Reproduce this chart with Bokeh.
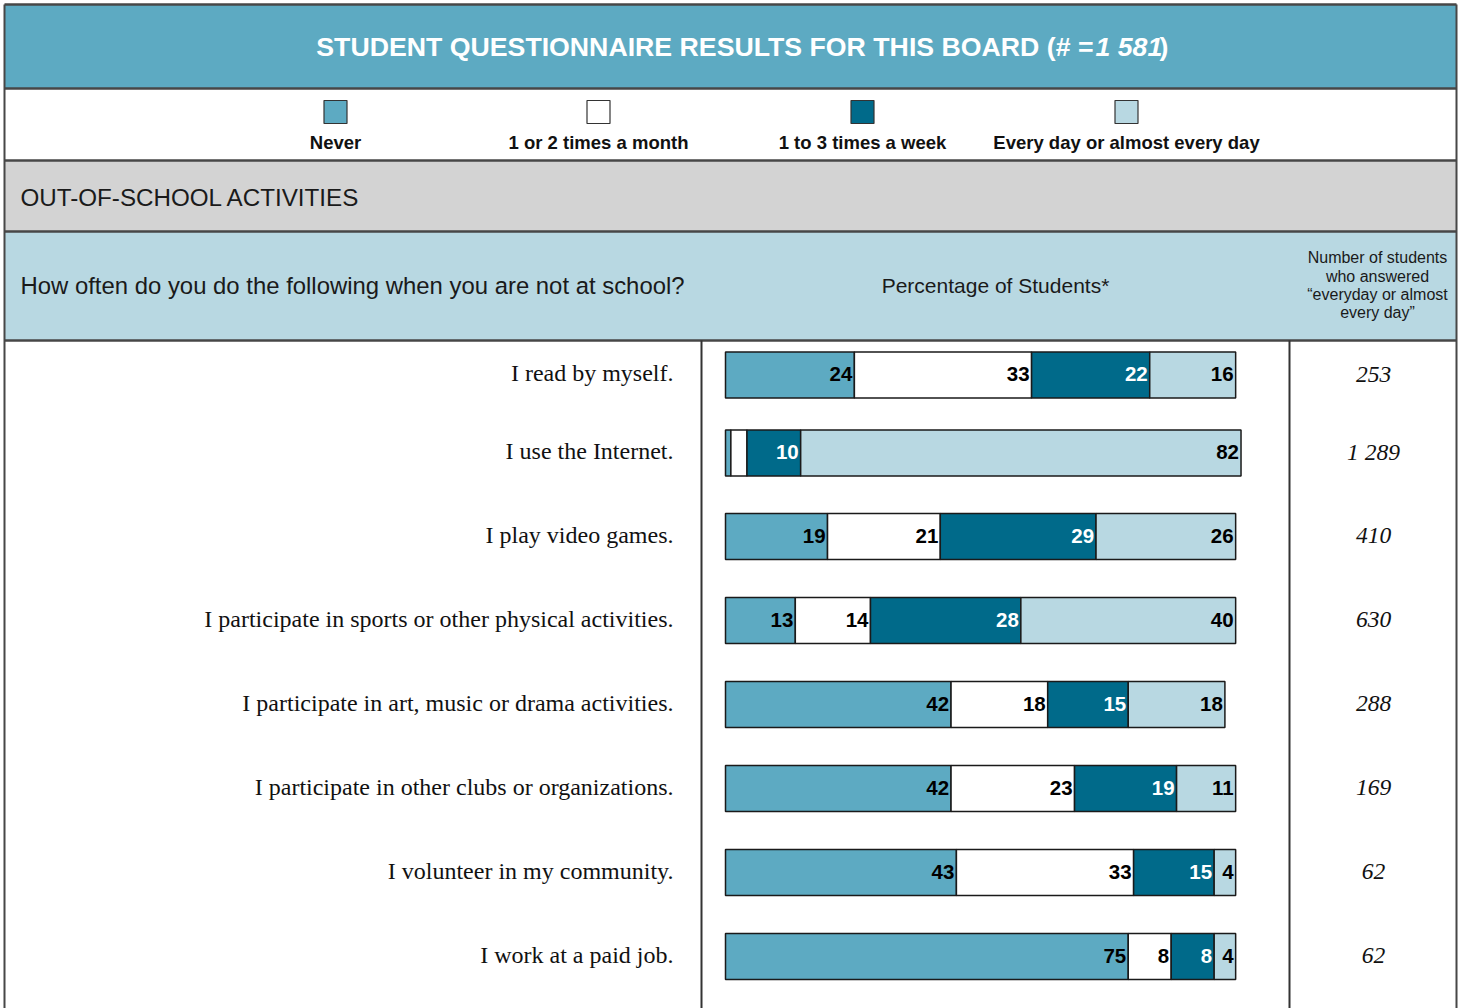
from bokeh.plotting import figure
from bokeh.models import Range1d, ColumnDataSource
from bokeh.core.properties import value
from bokeh.embed import file_html
from bokeh.resources import INLINE
import numpy as np

# ---------------- data ----------------
questions = [
    "I read by myself.",
    "I use the Internet.",
    "I play video games.",
    "I participate in sports or other physical activities.",
    "I participate in art, music or drama activities.",
    "I participate in other clubs or organizations.",
    "I volunteer in my community.",
    "I work at a paid job.",
]
categories = ["Never", "1 or 2 times a month", "1 to 3 times a week", "Every day or almost every day"]
never = [24, 1, 19, 13, 42, 42, 43, 75]
monthly = [33, 3, 21, 14, 18, 23, 33, 8]
weekly = [22, 10, 29, 28, 15, 19, 15, 8]
daily = [16, 82, 26, 40, 18, 11, 4, 4]
daily_counts = ["253", "1 289", "410", "630", "288", "169", "62", "62"]
total_students = "1 581"

# ---------------- style / layout ----------------
colors = ["#5DAAC2", "#FFFFFF", "#006A8A", "#B8D8E2"]
label_colors = ["#000000", "#000000", "#FFFFFF", "#000000"]
SANS = "Liberation Sans"
SERIF = "Liberation Serif"
LINE = "#474747"
row_y = [374.5, 452.5, 536, 620, 704, 788, 872, 956]
bar_x0 = 725.0
px_per_pct = 5.37
W, H = 1460, 1008

p = figure(width=W, height=H, x_range=Range1d(0, W), y_range=Range1d(H, 0),
           output_backend="svg", toolbar_location=None, min_border=0,
           x_axis_location=None, y_axis_location=None)
p.grid.visible = False
p.outline_line_color = None
p.background_fill_color = "white"
p.border_fill_color = "white"
p.extra_x_ranges = {"pct": Range1d(start=(0 - bar_x0) / px_per_pct, end=(W - bar_x0) / px_per_pct)}

# bands
p.quad(left=[4, 4, 4], right=[1456, 1456, 1456], top=[4, 160, 231], bottom=[88, 231, 340],
       fill_color=["#5DAAC2", "#D3D3D3", "#B8D8E2"], line_color=None)

# rules
p.segment(x0=[4, 4, 4, 4, 4], x1=[1456] * 5, y0=[4, 88, 160, 231, 340], y1=[4, 88, 160, 231, 340],
          line_color=LINE, line_width=2.5)
p.segment(x0=[4, 1456], x1=[4, 1456], y0=[4, 4], y1=[H, H], line_color=LINE, line_width=2)
p.segment(x0=[701, 1289], x1=[701, 1289], y0=[340, 340], y1=[H, H], line_color="#333333", line_width=2)

# title
p.text(x=[1093], y=[46.5], text=["STUDENT QUESTIONNAIRE RESULTS FOR THIS BOARD (# ="],
       text_font=value(SANS), text_font_style="bold", text_font_size="26.7px",
       text_color="white", text_align="right", text_baseline="middle")
p.text(x=[1095], y=[46.5], text=[total_students],
       text_font=value(SANS), text_font_style="bold italic", text_font_size="26.7px",
       text_color="white", text_align="left", text_baseline="middle")
p.text(x=[1159], y=[46.5], text=[")"],
       text_font=value(SANS), text_font_style="bold", text_font_size="26.7px",
       text_color="white", text_align="left", text_baseline="middle")

# legend
leg_x = [335, 598, 862, 1126]
p.rect(x=leg_x, y=[111.5] * 4, width=23, height=23, fill_color=colors, line_color="#333333", line_width=1.2)
p.text(x=leg_x, y=[141.8] * 4, text=categories, text_font=value(SANS), text_font_style="bold",
       text_font_size="18.5px", text_color="#111111", text_align="center", text_baseline="middle")

# section headers
p.text(x=[20], y=[196.5], text=["OUT-OF-SCHOOL ACTIVITIES"], text_font=value(SANS),
       text_font_size="24.2px", text_color="#1a1a1a", text_baseline="middle")
p.text(x=[20], y=[284.5], text=["How often do you do the following when you are not at school?"],
       text_font=value(SANS), text_font_size="23.9px", text_color="#1a1a1a", text_baseline="middle")
p.text(x=[995], y=[284.5], text=["Percentage of Students*"], text_font=value(SANS),
       text_font_size="21px", text_color="#1a1a1a", text_align="center", text_baseline="middle")
p.text(x=[1377] * 4, y=[257, 276, 294, 312],
       text=["Number of students", "who answered", "\u201ceveryday or almost", "every day\u201d"],
       text_font=value(SANS), text_font_size="16px", text_color="#1a1a1a",
       text_align="center", text_baseline="middle")

# row labels and counts
p.text(x=[673] * len(questions), y=[y - 2 for y in row_y], text=questions, text_font=value(SERIF),
       text_font_size="24px", text_color="#111111", text_align="right", text_baseline="middle")
p.text(x=[1373] * len(questions), y=[y - 1 for y in row_y], text=daily_counts, text_font=value(SERIF),
       text_font_style="italic", text_font_size="23.5px", text_color="#111111",
       text_align="center", text_baseline="middle")

# stacked bars
series = [never, monthly, weekly, daily]
cum = np.zeros(len(questions))
for vals, col, lcol in zip(series, colors, label_colors):
    vals = np.array(vals, dtype=float)
    left = cum.copy()
    right = cum + vals
    src = ColumnDataSource(dict(y=row_y, left=left, right=right))
    p.hbar(y="y", left="left", right="right", height=46, source=src, x_range_name="pct",
           fill_color=col, line_color="#1a1a1a", line_width=1.5)
    mask = vals >= 4
    lsrc = ColumnDataSource(dict(x=right[mask], y=np.array(row_y)[mask] - 1,
                                 t=[str(int(v)) for v in vals[mask]]))
    p.text(x="x", y="y", text="t", source=lsrc, x_range_name="pct", x_offset=-2,
           text_font=value(SANS), text_font_style="bold", text_font_size="20.5px",
           text_color=lcol, text_align="right", text_baseline="middle")
    cum = right

open("out.html", "w").write(file_html(p, INLINE))
